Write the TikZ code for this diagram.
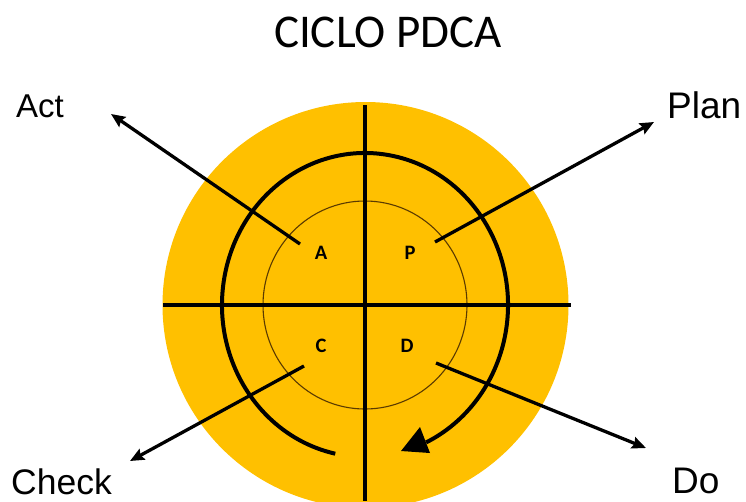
\documentclass[tikz,border=0pt]{standalone}
\usepackage{fontspec}
\setmainfont{Liberation Sans}
\newfontfamily\calfont{Carlito}
\usetikzlibrary{arrows.meta}
\definecolor{pdcagold}{HTML}{FFC000}
\definecolor{thinbrown}{HTML}{5A3A00}
\tikzset{
  quad/.style={line width=3.3pt, draw=black},
  conn/.style={line width=3.3pt, -{Stealth[length=14pt,width=12pt,inset=2pt]}},
  letter/.style={font=\calfont\bfseries\fontsize{20.5}{22}\selectfont, inner sep=0pt},
  label/.style={inner sep=0pt, anchor=base west},
}
\begin{document}
\begin{tikzpicture}[x=1pt,y=-1pt]
\useasboundingbox (0,0) rectangle (746,501);
\begin{scope}
\clip (0,0) rectangle (746,501);
\fill[pdcagold] (365.5,305) circle[radius=203pt];
\end{scope}
% thin inner ellipse
\draw[thinbrown, line width=1.1pt] (365,305) ellipse [x radius=102pt, y radius=104pt];
% cross
\coordinate (vtop) at (365,105);
\coordinate (vbot) at (365,501);
\coordinate (hl) at (163,305);
\coordinate (hr) at (571,305);
\draw[quad] (vtop) -- (vbot);
\draw[quad] (hl) -- (hr);
% cycle arc
\draw[line width=4pt] (365,305) ++(258:143pt and 152pt)
  arc[start angle=258, end angle=-64.7, x radius=143pt, y radius=152pt];
\fill[black] (401,451) -- (420,427) -- (430,453) -- cycle;
% letters
\node[letter] (nA) at (321,253) {A};
\node[letter] (nP) at (410,253) {P};
\node[letter] (nC) at (321,346) {C};
\node[letter] (nD) at (407,346) {D};
% title
\node[font=\calfont\fontsize{47}{50}\selectfont, inner sep=0pt, anchor=base] (title) at (388,47) {CICLO PDCA};
% labels
\node[label, font=\fontsize{33}{36}\selectfont] (act) at (16,117) {Act};
\node[label, font=\fontsize{37}{40}\selectfont] (plan) at (667,118) {Plan};
\node[label, font=\fontsize{35.5}{38}\selectfont] (check) at (11,494) {Check};
\node[label, font=\fontsize{37}{40}\selectfont] (do) at (672,493) {Do};
% connector ends
\coordinate (aS) at (300,244);
\coordinate (pS) at (435,242);
\coordinate (cS) at (304,366);
\coordinate (dS) at (436,363);
\coordinate (aT) at (111,114);
\coordinate (pT) at (654,122);
\coordinate (cT) at (130,461);
\coordinate (dT) at (646,448);
\draw[conn] (aS) -- (aT);
\draw[conn] (pS) -- (pT);
\draw[conn] (cS) -- (cT);
\draw[conn] (dS) -- (dT);
\end{tikzpicture}
\end{document}
